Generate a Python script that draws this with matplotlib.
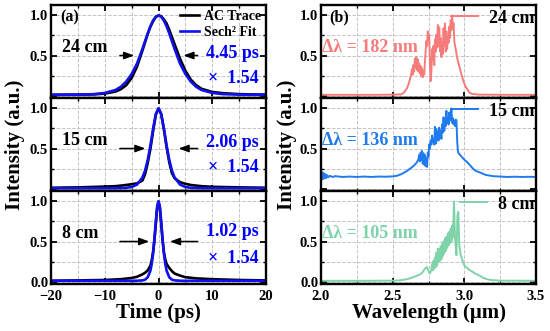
import matplotlib.pyplot as plt
from matplotlib.ticker import MultipleLocator

plt.rcParams['font.family'] = ['Liberation Serif', 'DejaVu Serif']
plt.rcParams['font.weight'] = 'bold'
plt.rcParams['axes.labelweight'] = 'bold'

# ---- (a) autocorrelation traces ----
t_24 = [-20, -15, -12, -10, -8, -7, -6, -5, -4, -3, -2, -1.5, -1, -0.5, 0,
        0.5, 1, 1.5, 2, 3, 4, 5, 6, 7, 8, 10, 12, 15, 20]
ac_24 = [0.01, 0.012, 0.015, 0.025, 0.05, 0.08, 0.13, 0.22, 0.36, 0.56, 0.77, 0.86, 0.93, 0.98, 1.0,
         0.99, 0.95, 0.9, 0.82, 0.64, 0.46, 0.31, 0.2, 0.13, 0.085, 0.045, 0.03, 0.018, 0.012]
fit_24 = [0.01, 0.012, 0.018, 0.033, 0.07, 0.11, 0.175, 0.27, 0.4, 0.58, 0.776, 0.865, 0.936, 0.984, 1.0,
          0.984, 0.936, 0.865, 0.776, 0.58, 0.4, 0.27, 0.175, 0.11, 0.07, 0.033, 0.018, 0.012, 0.01]

t_15 = [-20, -15, -10, -8, -6, -5, -4, -3, -2.5, -2, -1.5, -1, -0.5, 0,
        0.5, 1, 1.5, 2, 2.5, 3, 4, 5, 6, 8, 10, 15, 20]
ac_15 = [0.01, 0.015, 0.025, 0.03, 0.045, 0.055, 0.065, 0.1, 0.18, 0.32, 0.5, 0.72, 0.92, 1.0,
         0.93, 0.74, 0.52, 0.33, 0.19, 0.13, 0.08, 0.06, 0.045, 0.03, 0.022, 0.015, 0.01]
fit_15 = [0.005, 0.005, 0.005, 0.006, 0.01, 0.02, 0.05, 0.137, 0.225, 0.358, 0.54, 0.749, 0.93, 1.0,
          0.93, 0.749, 0.54, 0.358, 0.225, 0.137, 0.05, 0.02, 0.01, 0.006, 0.005, 0.005, 0.005]

t_8 = [-20, -15, -10, -7, -5, -4, -3, -2.5, -2, -1.5, -1.25, -1, -0.75, -0.5, -0.25, 0,
       0.25, 0.5, 0.75, 1, 1.25, 1.5, 2, 2.5, 3, 4, 5, 7, 10, 15, 20]
ac_8 = [0.01, 0.015, 0.02, 0.03, 0.045, 0.06, 0.09, 0.11, 0.14, 0.2, 0.27, 0.37, 0.52, 0.72, 0.92, 1.0,
        0.92, 0.72, 0.52, 0.37, 0.28, 0.22, 0.17, 0.13, 0.1, 0.075, 0.055, 0.04, 0.03, 0.02, 0.015]
fit_8 = [0.01, 0.01, 0.01, 0.01, 0.01, 0.011, 0.015, 0.024, 0.054, 0.138, 0.224, 0.357, 0.54, 0.75, 0.935, 1.0,
         0.935, 0.75, 0.54, 0.357, 0.224, 0.138, 0.054, 0.024, 0.015, 0.011, 0.01, 0.01, 0.01, 0.01, 0.01]

lengths = ['24 cm', '15 cm', '8 cm']
widths = ['4.45 ps', '2.06 ps', '1.02 ps']
# FWHM arrow tips (ps) and text heights per panel
arrow_tips = [(-4.0, 4.1), (-1.9, 3.2), (-1.2, 1.6)]
width_y = [(0.52, 0.21), (0.57, 0.26), (0.62, 0.29)]

# ---- (b) spectra ----
wl_24 = [2.0, 2.2, 2.4, 2.5, 2.56, 2.58, 2.6, 2.61, 2.62, 2.63, 2.635, 2.64, 2.645, 2.65, 2.655, 2.66,
         2.665, 2.67, 2.675, 2.68, 2.685, 2.69, 2.695, 2.7, 2.705, 2.71, 2.715, 2.72, 2.725, 2.73,
         2.735, 2.74, 2.745, 2.75, 2.755, 2.76, 2.765, 2.77, 2.775, 2.78, 2.785, 2.79, 2.795, 2.8,
         2.805, 2.81, 2.815, 2.82, 2.825, 2.83, 2.835, 2.84, 2.845, 2.85, 2.855, 2.86, 2.865, 2.87,
         2.875, 2.88, 2.885, 2.89, 2.895, 2.9, 2.905, 2.91, 2.915, 2.92, 2.925, 2.93, 2.935, 2.94,
         2.95, 2.96, 2.97, 2.98, 2.99, 3.0, 3.01, 3.02, 3.03, 3.04, 3.06, 3.1, 3.3, 3.5]
sp_24 = [0.01, 0.01, 0.01, 0.012, 0.015, 0.04, 0.09, 0.14, 0.2, 0.27, 0.33, 0.26, 0.38, 0.3, 0.46, 0.35,
         0.48, 0.32, 0.45, 0.3, 0.4, 0.28, 0.37, 0.24, 0.34, 0.23, 0.3, 0.26, 0.42, 0.55,
         0.68, 0.62, 0.8, 0.72, 0.76, 0.4, 0.18, 0.3, 0.58, 0.45, 0.62, 0.38, 0.7, 0.55,
         0.76, 0.6, 0.88, 0.62, 0.85, 0.55, 0.72, 0.48, 0.66, 0.52, 0.84, 0.62, 0.9, 0.55,
         0.8, 0.58, 0.74, 0.66, 0.86, 0.72, 0.94, 0.82, 1.0, 0.85, 0.9, 0.68, 0.62, 0.58,
         0.47, 0.4, 0.33, 0.26, 0.2, 0.15, 0.11, 0.08, 0.05, 0.03, 0.02, 0.012, 0.01, 0.01]

wl_15 = [2.0, 2.005, 2.01, 2.015, 2.02, 2.025, 2.03, 2.035, 2.04, 2.05, 2.06, 2.08, 2.1, 2.15, 2.2,
         2.25, 2.3, 2.35, 2.4, 2.45, 2.5, 2.53, 2.56, 2.6, 2.63, 2.65, 2.67, 2.68, 2.685, 2.69,
         2.695, 2.7, 2.705, 2.71, 2.715, 2.72, 2.725, 2.73, 2.735, 2.74, 2.745, 2.75, 2.755, 2.76,
         2.765, 2.77, 2.775, 2.78, 2.785, 2.79, 2.795, 2.8, 2.805, 2.81, 2.815, 2.82, 2.825, 2.83,
         2.835, 2.84, 2.845, 2.85, 2.855, 2.86, 2.865, 2.87, 2.875, 2.88, 2.885, 2.89, 2.895, 2.9,
         2.905, 2.91, 2.915, 2.92, 2.925, 2.93, 2.935, 2.94, 2.945, 2.95, 2.955, 2.96, 2.98, 3.0,
         3.02, 3.04, 3.06, 3.08, 3.11, 3.15, 3.2, 3.25, 3.3, 3.35, 3.4, 3.45, 3.5]
sp_15 = [0.19, 0.11, 0.2, 0.12, 0.19, 0.13, 0.18, 0.13, 0.17, 0.14, 0.16, 0.145, 0.155, 0.145, 0.15,
         0.145, 0.15, 0.145, 0.15, 0.148, 0.152, 0.16, 0.18, 0.22, 0.26, 0.29, 0.33, 0.37, 0.42, 0.34,
         0.45, 0.36, 0.47, 0.31, 0.44, 0.3, 0.42, 0.28, 0.38, 0.27, 0.45, 0.4, 0.55, 0.5,
         0.6, 0.55, 0.66, 0.58, 0.62, 0.55, 0.77, 0.56, 0.74, 0.6, 0.7, 0.6, 0.76, 0.64,
         0.72, 0.62, 0.8, 0.7, 0.89, 0.72, 0.82, 0.78, 0.97, 0.82, 0.88, 0.8, 0.95, 0.85,
         0.9, 1.0, 0.82, 0.88, 0.8, 0.85, 0.78, 0.86, 0.85, 0.6, 0.47, 0.44, 0.4, 0.36,
         0.33, 0.29, 0.25, 0.22, 0.2, 0.17, 0.155, 0.15, 0.145, 0.148, 0.145, 0.147, 0.145]

wl_8 = [2.0, 2.3, 2.5, 2.55, 2.6, 2.62, 2.65, 2.68, 2.7, 2.71, 2.72, 2.73, 2.74, 2.75, 2.76, 2.77,
        2.775, 2.78, 2.785, 2.79, 2.795, 2.8, 2.805, 2.81, 2.815, 2.82, 2.825, 2.83, 2.835, 2.84,
        2.845, 2.85, 2.855, 2.86, 2.865, 2.87, 2.875, 2.88, 2.885, 2.89, 2.895, 2.9, 2.905, 2.91,
        2.915, 2.92, 2.928, 2.935, 2.945, 2.952, 2.958, 2.965, 2.975, 2.99, 3.0, 3.02, 3.04,
        3.06, 3.075, 3.09, 3.11, 3.14, 3.18, 3.25, 3.5]
sp_8 = [0.01, 0.01, 0.012, 0.015, 0.03, 0.04, 0.06, 0.08, 0.1, 0.12, 0.15, 0.17, 0.18, 0.13, 0.1, 0.15,
        0.22, 0.14, 0.26, 0.16, 0.3, 0.18, 0.36, 0.2, 0.41, 0.24, 0.4, 0.26, 0.44, 0.28,
        0.47, 0.32, 0.5, 0.35, 0.54, 0.38, 0.56, 0.42, 0.6, 0.45, 0.62, 0.48, 0.66, 0.5,
        0.7, 0.55, 1.0, 0.54, 0.33, 0.83, 0.87, 0.45, 0.33, 0.25, 0.2, 0.17, 0.14,
        0.12, 0.1, 0.09, 0.07, 0.04, 0.02, 0.012, 0.01]

spec_labels = ['24 cm', '15 cm', '8 cm']
bandwidths = ['Δλ = 182 nm', 'Δλ = 136 nm', 'Δλ = 105 nm']
spec_colors = ['#F77B7B', '#1F7BEF', '#7ED3A8']

traces = [(t_24, ac_24, fit_24), (t_15, ac_15, fit_15), (t_8, ac_8, fit_8)]
spectra = [(wl_24, sp_24), (wl_15, sp_15), (wl_8, sp_8)]

fig = plt.figure(figsize=(5.5, 3.31), dpi=100)
top, bottom = 1 - 5 / 331, 1 - 284 / 331
h = (top - bottom) / 3


def style_axis(ax, last, xmaj, xmin):
    ax.set_ylim(-0.03, 1.13)
    ax.xaxis.set_major_locator(MultipleLocator(xmaj))
    ax.xaxis.set_minor_locator(MultipleLocator(xmin))
    ax.set_yticks([0, 0.5, 1.0])
    ax.yaxis.set_minor_locator(MultipleLocator(0.25))
    ax.set_yticklabels(['0.0' if last else '', '0.5', '1.0'])
    if not last:
        ax.tick_params(labelbottom=False)
    ax.grid(True, which='both', ls='--', lw=0.7, color='#c4c4c4')
    ax.tick_params(which='both', direction='in', top=True, right=True, labelsize=10.5, pad=2)
    ax.tick_params(axis='x', pad=4)
    ax.tick_params(which='major', length=4, width=1.3)
    ax.tick_params(which='minor', length=2, width=1)
    for s in ax.spines.values():
        s.set_linewidth(1.7)
    for lab in ax.get_xticklabels() + ax.get_yticklabels():
        lab.set_fontweight('bold')


for i in range(3):
    y0 = top - (i + 1) * h
    # left column
    ax = fig.add_axes([51 / 550, y0, 215 / 550, h])
    t, ac, fit = traces[i]
    ax.plot(t, ac, color='black', lw=1.9, label='AC Trace')
    ax.plot(t, fit, color='#1010F0', lw=1.9, label='Sech² Fit')
    ax.set_xlim(-20, 20)
    style_axis(ax, i == 2, 10, 5)
    ax.text(-18, 0.6, lengths[i], fontsize=13, fontweight='bold', va='center', ha='left')
    ax.text(18.6, width_y[i][0], widths[i], fontsize=13, fontweight='bold', color='#0000FF',
            va='center', ha='right')
    ax.text(18.6, width_y[i][1], '×  1.54', fontsize=13, fontweight='bold', color='#0000FF',
            va='center', ha='right')
    lt, rt = arrow_tips[i]
    arrow = dict(arrowstyle='-|>,head_length=0.6,head_width=0.22', color='black', lw=1.1)
    ax.annotate('', xy=(lt, 0.5), xytext=(-7.7, 0.5), arrowprops=arrow)
    ax.annotate('', xy=(rt, 0.5), xytext=(7.8, 0.5), arrowprops=arrow)
    if i == 0:
        ax.text(-18.3, 0.98, '(a)', fontsize=11.5, fontweight='bold', va='center')
        ax.legend(loc='upper right', frameon=False, fontsize=10, handlelength=1.4,
                  handletextpad=0.35, labelspacing=0.2, borderaxespad=0.25, borderpad=0.1)
    if i == 2:
        ax.set_xlabel('Time (ps)', fontsize=15, labelpad=0)

    # right column
    ax = fig.add_axes([321 / 550, y0, 215 / 550, h])
    wl, sp = spectra[i]
    ax.plot(wl, sp, color=spec_colors[i], lw=1.4, label=spec_labels[i])
    ax.set_xlim(2.0, 3.5)
    style_axis(ax, i == 2, 0.5, 0.25)
    ax.text(2.01, 0.6, bandwidths[i], fontsize=13, fontweight='bold', color=spec_colors[i],
            va='center', ha='left')
    if i == 0:
        ax.text(2.06, 0.98, '(b)', fontsize=11.5, fontweight='bold', va='center')
    ax.legend(loc='upper right', bbox_to_anchor=(1.0, 0.97), frameon=False, fontsize=13,
              handlelength=1.5, handletextpad=0.6, borderaxespad=0.0, borderpad=0.1)
    if i == 2:
        ax.set_xlabel('Wavelength (μm)', fontsize=15, labelpad=0)

fig.text(15 / 550, 1 - 145 / 331, 'Intensity (a.u.)', rotation=90, fontsize=15,
         fontweight='bold', ha='center', va='center')
fig.text(287 / 550, 1 - 145 / 331, 'Intensity (a.u.)', rotation=90, fontsize=15,
         fontweight='bold', ha='center', va='center')

fig.savefig('out.png', dpi=100)
